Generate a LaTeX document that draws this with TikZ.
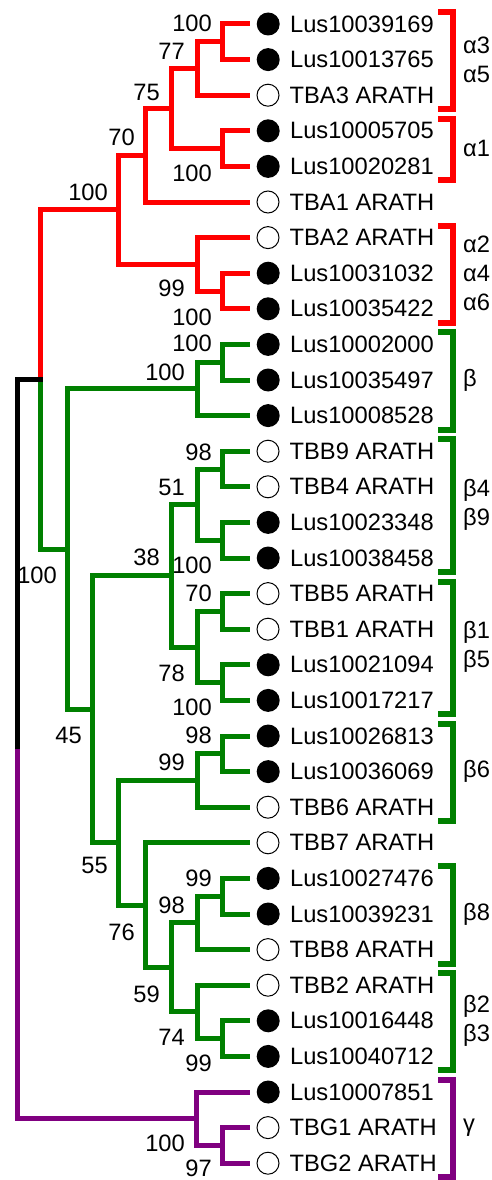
\documentclass[tikz,border=0pt]{standalone}
\usepackage{fontspec}
\setmainfont{Liberation Sans}
\usetikzlibrary{positioning}
\definecolor{cladered}{RGB}{255,0,0}
\definecolor{cladegreen}{RGB}{0,128,0}
\definecolor{cladepurple}{RGB}{128,0,128}
\tikzset{
    branch/.style={line width=5pt},
    bracket/.style={line width=6pt},
    fulldot/.style={circle,fill=black,inner sep=0pt,minimum size=23pt},
    opendot/.style={circle,draw=black,fill=white,line width=1pt,inner sep=0pt,minimum size=22pt},
    leaf/.style={inner sep=0pt,font=\fontsize{23.7}{29}\selectfont},
    boot/.style={anchor=east,inner sep=0pt,font=\fontsize{23.7}{29}\selectfont},
    clade/.style={anchor=west,inner sep=0pt,align=left,font=\fontsize{23.7}{29}\selectfont}
}
\begin{document}
\begin{tikzpicture}[x=1pt,y=-1pt]
                \useasboundingbox (0,0) rectangle (491,1180);

                \coordinate (t0) at (250,24);     \node[fulldot,right=6.5pt of t0] (d0) {};   \node[leaf,right=10pt of d0] (l0) {Lus10039169};
                \coordinate (t1) at (250,59.6);   \node[fulldot,right=6.5pt of t1] (d1) {};   \node[leaf,right=10pt of d1] (l1) {Lus10013765};
                \coordinate (t2) at (250,95.2);   \node[opendot,right=6.5pt of t2] (d2) {};   \node[leaf,right=10pt of d2] (l2) {TBA3 ARATH};
                \coordinate (t3) at (250,130.8);  \node[fulldot,right=6.5pt of t3] (d3) {};   \node[leaf,right=10pt of d3] (l3) {Lus10005705};
                \coordinate (t4) at (250,166.4);  \node[fulldot,right=6.5pt of t4] (d4) {};   \node[leaf,right=10pt of d4] (l4) {Lus10020281};
                \coordinate (t5) at (250,202);    \node[opendot,right=6.5pt of t5] (d5) {};   \node[leaf,right=10pt of d5] (l5) {TBA1 ARATH};
                \coordinate (t6) at (250,237.6);  \node[opendot,right=6.5pt of t6] (d6) {};   \node[leaf,right=10pt of d6] (l6) {TBA2 ARATH};
                \coordinate (t7) at (250,273.2);  \node[fulldot,right=6.5pt of t7] (d7) {};   \node[leaf,right=10pt of d7] (l7) {Lus10031032};
                \coordinate (t8) at (250,308.8);  \node[fulldot,right=6.5pt of t8] (d8) {};   \node[leaf,right=10pt of d8] (l8) {Lus10035422};
                \coordinate (t9) at (250,344.4);  \node[fulldot,right=6.5pt of t9] (d9) {};   \node[leaf,right=10pt of d9] (l9) {Lus10002000};
                \coordinate (t10) at (250,380);   \node[fulldot,right=6.5pt of t10] (d10) {}; \node[leaf,right=10pt of d10] (l10) {Lus10035497};
                \coordinate (t11) at (250,415.6); \node[fulldot,right=6.5pt of t11] (d11) {}; \node[leaf,right=10pt of d11] (l11) {Lus10008528};
                \coordinate (t12) at (250,451.2); \node[opendot,right=6.5pt of t12] (d12) {}; \node[leaf,right=10pt of d12] (l12) {TBB9 ARATH};
                \coordinate (t13) at (250,486.8); \node[opendot,right=6.5pt of t13] (d13) {}; \node[leaf,right=10pt of d13] (l13) {TBB4 ARATH};
                \coordinate (t14) at (250,522.4); \node[fulldot,right=6.5pt of t14] (d14) {}; \node[leaf,right=10pt of d14] (l14) {Lus10023348};
                \coordinate (t15) at (250,558);   \node[fulldot,right=6.5pt of t15] (d15) {}; \node[leaf,right=10pt of d15] (l15) {Lus10038458};
                \coordinate (t16) at (250,593.6); \node[opendot,right=6.5pt of t16] (d16) {}; \node[leaf,right=10pt of d16] (l16) {TBB5 ARATH};
                \coordinate (t17) at (250,629.2); \node[opendot,right=6.5pt of t17] (d17) {}; \node[leaf,right=10pt of d17] (l17) {TBB1 ARATH};
                \coordinate (t18) at (250,664.8); \node[fulldot,right=6.5pt of t18] (d18) {}; \node[leaf,right=10pt of d18] (l18) {Lus10021094};
                \coordinate (t19) at (250,700.4); \node[fulldot,right=6.5pt of t19] (d19) {}; \node[leaf,right=10pt of d19] (l19) {Lus10017217};
                \coordinate (t20) at (250,736);   \node[fulldot,right=6.5pt of t20] (d20) {}; \node[leaf,right=10pt of d20] (l20) {Lus10026813};
                \coordinate (t21) at (250,771.6); \node[fulldot,right=6.5pt of t21] (d21) {}; \node[leaf,right=10pt of d21] (l21) {Lus10036069};
                \coordinate (t22) at (250,807.2); \node[opendot,right=6.5pt of t22] (d22) {}; \node[leaf,right=10pt of d22] (l22) {TBB6 ARATH};
                \coordinate (t23) at (250,842.8); \node[opendot,right=6.5pt of t23] (d23) {}; \node[leaf,right=10pt of d23] (l23) {TBB7 ARATH};
                \coordinate (t24) at (250,878.4); \node[fulldot,right=6.5pt of t24] (d24) {}; \node[leaf,right=10pt of d24] (l24) {Lus10027476};
                \coordinate (t25) at (250,914);   \node[fulldot,right=6.5pt of t25] (d25) {}; \node[leaf,right=10pt of d25] (l25) {Lus10039231};
                \coordinate (t26) at (250,949.6); \node[opendot,right=6.5pt of t26] (d26) {}; \node[leaf,right=10pt of d26] (l26) {TBB8 ARATH};
                \coordinate (t27) at (250,985.2); \node[opendot,right=6.5pt of t27] (d27) {}; \node[leaf,right=10pt of d27] (l27) {TBB2 ARATH};
                \coordinate (t28) at (250,1020.8);\node[fulldot,right=6.5pt of t28] (d28) {}; \node[leaf,right=10pt of d28] (l28) {Lus10016448};
                \coordinate (t29) at (250,1056.4);\node[fulldot,right=6.5pt of t29] (d29) {}; \node[leaf,right=10pt of d29] (l29) {Lus10040712};
                \coordinate (t30) at (250,1092);  \node[fulldot,right=6.5pt of t30] (d30) {}; \node[leaf,right=10pt of d30] (l30) {Lus10007851};
                \coordinate (t31) at (250,1127.6);\node[opendot,right=6.5pt of t31] (d31) {}; \node[leaf,right=10pt of d31] (l31) {TBG1 ARATH};
                \coordinate (t32) at (250,1163.2);\node[opendot,right=6.5pt of t32] (d32) {}; \node[leaf,right=10pt of d32] (l32) {TBG2 ARATH};

                \coordinate (nA1) at (222,41.8);
                \coordinate (nA2) at (197,68.5);
                \coordinate (nA3) at (222,148.6);
                \coordinate (nA4) at (171,108.6);
                \coordinate (nA5) at (145,155.3);
                \coordinate (nA6) at (222,291);
                \coordinate (nA7) at (197,264.3);
                \coordinate (nA8) at (118,209.8);
                \coordinate (nB1) at (222,362.2);
                \coordinate (nB2) at (197,388.9);
                \coordinate (nB3) at (222,469);
                \coordinate (nB4) at (222,540.2);
                \coordinate (nB5) at (197,504.6);
                \coordinate (nB6) at (222,611.4);
                \coordinate (nB7) at (222,682.6);
                \coordinate (nB8) at (197,647);
                \coordinate (nB9) at (171,575.8);
                \coordinate (nB10) at (222,753.8);
                \coordinate (nB11) at (197,780.5);
                \coordinate (nB12) at (222,896.2);
                \coordinate (nB13) at (197,922.9);
                \coordinate (nB14) at (222,1038.6);
                \coordinate (nB15) at (197,1011.9);
                \coordinate (nB16) at (171,967.4);
                \coordinate (nB17) at (145,905.1);
                \coordinate (nB18) at (118,842.8);
                \coordinate (nB19) at (92,709.3);
                \coordinate (nB20) at (67,549.1);
                \coordinate (nAB) at (40,379.5);
                \coordinate (nC1) at (222,1145.4);
                \coordinate (nC2) at (196,1118.7);
                \coordinate (root) at (17,749.1);

                \draw[branch,cladered] (nA1) |- (t0) (nA1) |- (t1) (nA2) |- (nA1) (nA2) |- (t2)
                    (nA3) |- (t3) (nA3) |- (t4) (nA4) |- (nA2) (nA4) |- (nA3) (nA5) |- (nA4) (nA5) |- (t5)
                    (nA6) |- (t7) (nA6) |- (t8) (nA7) |- (t6) (nA7) |- (nA6) (nA8) |- (nA5) (nA8) |- (nA7)
                    (nAB) |- (nA8);
                \draw[branch,cladegreen] (nB1) |- (t9) (nB1) |- (t10) (nB2) |- (nB1) (nB2) |- (t11)
                    (nB3) |- (t12) (nB3) |- (t13) (nB4) |- (t14) (nB4) |- (t15) (nB5) |- (nB3) (nB5) |- (nB4)
                    (nB6) |- (t16) (nB6) |- (t17) (nB7) |- (t18) (nB7) |- (t19) (nB8) |- (nB6) (nB8) |- (nB7)
                    (nB9) |- (nB5) (nB9) |- (nB8) (nB10) |- (t20) (nB10) |- (t21) (nB11) |- (nB10) (nB11) |- (t22)
                    (nB12) |- (t24) (nB12) |- (t25) (nB13) |- (nB12) (nB13) |- (t26)
                    (nB14) |- (t28) (nB14) |- (t29) (nB15) |- (t27) (nB15) |- (nB14)
                    (nB16) |- (nB13) (nB16) |- (nB15) (nB17) |- (t23) (nB17) |- (nB16)
                    (nB18) |- (nB11) (nB18) |- (nB17) (nB19) |- (nB9) (nB19) |- (nB18)
                    (nB20) |- (nB2) (nB20) |- (nB19) (nAB) |- (nB20);
                \draw[branch,black,line cap=rect] (root) |- (nAB);
                \draw[branch,cladepurple] (nC1) |- (t31) (nC1) |- (t32) (nC2) |- (t30) (nC2) |- (nC1)
                    (root) |- (nC2);

                \node[boot] (bA1) at (212,23) {100};
                \node[boot] (bA2) at (185,51) {77};
                \node[boot] (bA4) at (160,92) {75};
                \node[boot] (bA5) at (135,137) {70};
                \node[boot] (bA3) at (212,173) {100};
                \node[boot] (bA8) at (108,192) {100};
                \node[boot] (bA7) at (185,288) {99};
                \node[boot] (bA6) at (212,317) {100};
                \node[boot] (bB1) at (212,343) {100};
                \node[boot] (bB2) at (185,372) {100};
                \node[boot] (bB3) at (212,452) {98};
                \node[boot] (bB5) at (185,487) {51};
                \node[boot] (bB9) at (160,557) {38};
                \node[boot] (bB4) at (212,565) {100};
                \node[boot] (bAB) at (57,575) {100};
                \node[boot] (bB6) at (212,593) {70};
                \node[boot] (bB8) at (185,673) {78};
                \node[boot] (bB7) at (212,707) {100};
                \node[boot] (bB19) at (82,735) {45};
                \node[boot] (bB10) at (212,735) {98};
                \node[boot] (bB11) at (185,762) {99};
                \node[boot] (bB18) at (108,865) {55};
                \node[boot] (bB12) at (212,878) {99};
                \node[boot] (bB13) at (185,905) {98};
                \node[boot] (bB17) at (135,932) {76};
                \node[boot] (bB16) at (160,994) {59};
                \node[boot] (bB15) at (185,1037) {74};
                \node[boot] (bB14) at (212,1063) {99};
                \node[boot] (bC2) at (185,1143) {100};
                \node[boot] (bC1) at (212,1168) {97};

                \draw[bracket,cladered] (438,12) -| (453,109.2) -- (438,109.2);
                \draw[bracket,cladered] (438,118.8) -| (453,180.4) -- (438,180.4);
                \draw[bracket,cladered] (438,225.6) -| (453,322.8) -- (438,322.8);
                \draw[bracket,cladegreen] (438,332.4) -| (453,429.6) -- (438,429.6);
                \draw[bracket,cladegreen] (438,439.2) -| (453,572) -- (438,572);
                \draw[bracket,cladegreen] (438,581.6) -| (453,714.4) -- (438,714.4);
                \draw[bracket,cladegreen] (438,724) -| (453,821.2) -- (438,821.2);
                \draw[bracket,cladegreen] (438,866.4) -| (453,963.6) -- (438,963.6);
                \draw[bracket,cladegreen] (438,973.2) -| (453,1070.4) -- (438,1070.4);
                \draw[bracket,cladepurple] (438,1080) -| (453,1177.2) -- (438,1177.2);

                \node[clade] (kA35) at (463,59.6) {α3\\α5};
                \node[clade] (kA1) at (463,148.6) {α1};
                \node[clade] (kA246) at (463,273.2) {α2\\α4\\α6};
                \node[clade] (kB) at (463,380) {β};
                \node[clade] (kB49) at (463,504.6) {β4\\β9};
                \node[clade] (kB15) at (463,647) {β1\\β5};
                \node[clade] (kB6) at (463,771.6) {β6};
                \node[clade] (kB8) at (463,914) {β8};
                \node[clade] (kB23) at (463,1020.8) {β2\\β3};
                \node[clade] (kC) at (463,1127.6) {γ};
            \end{tikzpicture}
\end{document}
